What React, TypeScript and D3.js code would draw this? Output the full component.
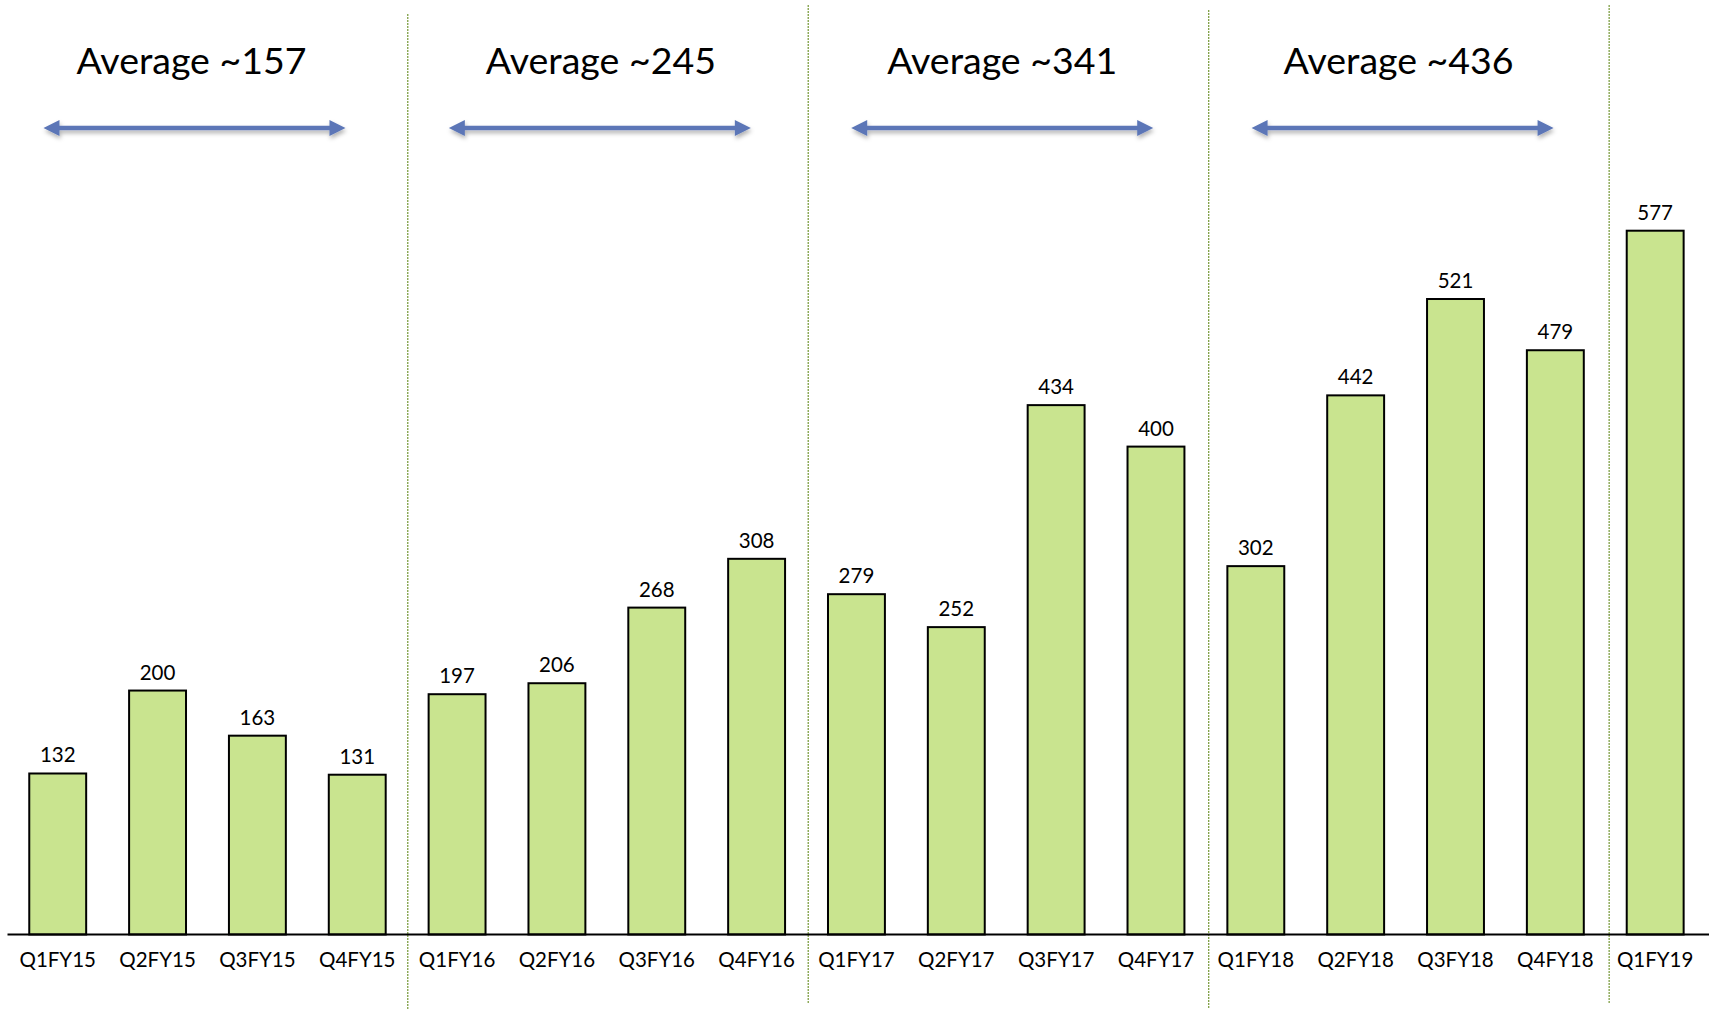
import React from "react";
import * as d3 from "d3";

const categories = [
  "Q1FY15", "Q2FY15", "Q3FY15", "Q4FY15",
  "Q1FY16", "Q2FY16", "Q3FY16", "Q4FY16",
  "Q1FY17", "Q2FY17", "Q3FY17", "Q4FY17",
  "Q1FY18", "Q2FY18", "Q3FY18", "Q4FY18",
  "Q1FY19",
];
const values = [132, 200, 163, 131, 197, 206, 268, 308, 279, 252, 434, 400, 302, 442, 521, 479, 577];
const averageLabels = ["Average ~157", "Average ~245", "Average ~341", "Average ~436"];

const W = 1709;
const H = 1009;
const BASE_Y = 934.5;
const FONT = "Lato, 'Open Sans', sans-serif";
const TITLE_SHIFT = [-16, -6, -4, -7];
const ARROW_SHIFT = [-13, -7, -4, -3];

export default function App() {
  const x = d3
    .scaleBand<string>()
    .domain(categories)
    .range([5.3, 1707.6])
    .paddingInner(0.43)
    .paddingOuter(0.24);
  const y = d3.scaleLinear().domain([0, 577]).range([BASE_Y, 230.7]);
  const step = x.step();
  const bw = x.bandwidth();

  const groups = averageLabels.map((label, k) => {
    const first = x(categories[k * 4])! + bw / 2;
    const last = x(categories[k * 4 + 3])! + bw / 2;
    const c = (first + last) / 2;
    return { label, tx: c + TITLE_SHIFT[k], ax: c + ARROW_SHIFT[k] };
  });

  const dividers = [1, 2, 3, 4].map((k) => {
    const c = categories[k * 4];
    return x(c)! - (step - bw) / 2 + (k - 1) * 1.1 + 0.6;
  });
  const dividerTops = [14, 5, 10, 5];
  const dividerBottoms = [1009, 1003, 1009, 1003];

  const arrowPath = (cx: number) => {
    const half = 151;
    const hl = 16;
    const hh = 8;
    const t = 2.3;
    const yy = 128;
    const l = cx - half;
    const r = cx + half;
    return `M${l},${yy} L${l + hl},${yy - hh} L${l + hl},${yy - t} L${r - hl},${yy - t} L${r - hl},${yy - hh} L${r},${yy} L${r - hl},${yy + hh} L${r - hl},${yy + t} L${l + hl},${yy + t} L${l + hl},${yy + hh} Z`;
  };

  return (
    <svg
      width={W}
      height={H}
      style={{ position: "absolute", left: 0, top: 0, display: "block", background: "#fff" }}
    >
      <defs>
        <filter id="shadow" x="-5%" y="-100%" width="110%" height="300%">
          <feDropShadow dx="1" dy="3" stdDeviation="2" floodColor="#000" floodOpacity="0.3" />
        </filter>
      </defs>
      <rect x={0} y={0} width={W} height={H} fill="#fff" />

      {dividers.map((dx, i) => (
        <line
          key={"d" + i}
          x1={dx}
          x2={dx}
          y1={dividerTops[i]}
          y2={dividerBottoms[i]}
          stroke="#7f9f45"
          strokeWidth={1.3}
          strokeDasharray="2 1"
        />
      ))}

      {groups.map((g, i) => (
        <g key={"g" + i}>
          <text
            x={g.tx}
            y={74}
            textAnchor="middle"
            fontFamily={FONT}
            fontSize={37.5}
            fill="#000"
          >
            {g.label}
          </text>
          <path d={arrowPath(g.ax)} fill="#5b76b7" filter="url(#shadow)" />
        </g>
      ))}

      {categories.map((c, i) => (
        <g key={c}>
          <rect
            x={x(c)!}
            y={y(values[i])}
            width={bw}
            height={BASE_Y - y(values[i])}
            fill="#c9e48f"
            stroke="#000"
            strokeWidth={2}
          />
          <text
            x={x(c)! + bw / 2}
            y={y(values[i]) - 11}
            textAnchor="middle"
            fontFamily={FONT}
            fontSize={20.5}
            fill="#000"
          >
            {values[i]}
          </text>
          <text
            x={x(c)! + bw / 2}
            y={966.5}
            textAnchor="middle"
            fontFamily={FONT}
            fontSize={20.5}
            fill="#000"
          >
            {c}
          </text>
        </g>
      ))}

      <line x1={7.5} x2={W} y1={BASE_Y} y2={BASE_Y} stroke="#000" strokeWidth={2} />
    </svg>
  );
}
